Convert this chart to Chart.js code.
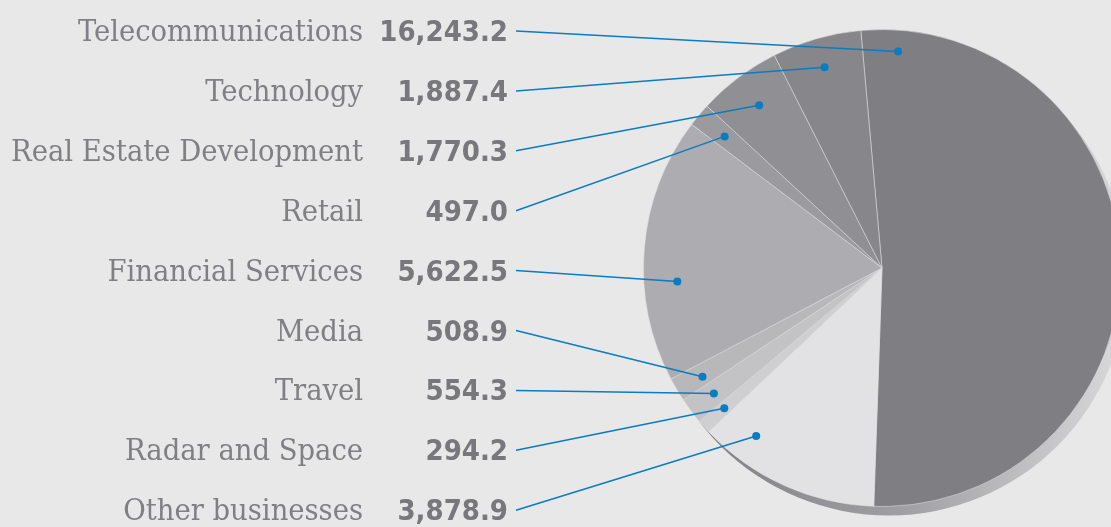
<!DOCTYPE html>
<html>
<head>
<meta charset="utf-8">
<script src="https://cdn.jsdelivr.net/npm/chart.js@4.4.1/dist/chart.umd.min.js"></script>
<style>
  html, body { margin: 0; padding: 0; background: #e8e8e8; overflow: hidden; }
  #wrap { position: relative; width: 1140px; height: 527px; }
</style>
</head>
<body>
<div id="wrap"><canvas id="pie"></canvas></div>
<script>
const categories = ['Telecommunications', 'Technology', 'Real Estate Development', 'Retail',
  'Financial Services', 'Media', 'Travel', 'Radar and Space', 'Other businesses'];
const amounts = [16243.2, 1887.4, 1770.3, 497.0, 5622.5, 508.9, 554.3, 294.2, 3878.9];
const sliceColors = ['#7f7e83', '#87868b', '#908f94', '#9b9a9f', '#adacb0',
  '#b8b8bb', '#c3c3c6', '#cfcfd1', '#e2e2e4'];

// clockwise order of the slices, starting just left of 12 o'clock
const pieOrder = [0, 8, 7, 6, 5, 4, 3, 2, 1];
// where the blue dot sits inside each slice (0 = leading edge, 1 = trailing edge)
const dotAlong = [0.05, 0.5, 0.5, 0.5, 0.37, 0.4, 0.5, 0.5, 0.78];
// and how far out from the centre (share of the radius)
const dotDepth = [0.91, 0.875, 0.855, 0.86, 0.86, 0.88, 0.88, 0.885, 0.88];

const nameFont = "30.5px 'DejaVu Serif Condensed', 'DejaVu Serif', serif";
const valueFont = "bold 29px 'DejaVu Sans Condensed', 'DejaVu Sans', sans-serif";
const blue = '#0a7cc2';

function fmt(v) {
  return v.toLocaleString('en-US', { minimumFractionDigits: 1, maximumFractionDigits: 1 });
}

const leaderPlugin = {
  id: 'leaders',
  beforeDatasetsDraw(chart) {
    // the dark rim under the lower right of the pie
    const ctx = chart.ctx;
    const arc = chart.getDatasetMeta(0).data[0];
    const { x, y, outerRadius } = arc.getProps(['x', 'y', 'outerRadius'], true);
    const g = ctx.createLinearGradient(x - 150, 0, x + 230, 0);
    g.addColorStop(0, '#86868a');
    g.addColorStop(0.45, '#a0a0a4');
    g.addColorStop(1, '#d6d6d8');
    ctx.save();
    ctx.beginPath();
    ctx.arc(x + 7, y + 9, outerRadius, 0, Math.PI * 2);
    ctx.fillStyle = g;
    ctx.fill();
    ctx.restore();
  },
  afterDatasetsDraw(chart) {
    const ctx = chart.ctx;
    const arcs = chart.getDatasetMeta(0).data;
    ctx.save();
    categories.forEach((name, i) => {
      const arc = arcs[pieOrder.indexOf(i)];
      const p = arc.getProps(['x', 'y', 'startAngle', 'endAngle', 'outerRadius'], true);
      const a = p.startAngle + (p.endAngle - p.startAngle) * dotAlong[i];
      const r = p.outerRadius * dotDepth[i];
      const px = p.x + Math.cos(a) * r;
      const py = p.y + Math.sin(a) * r;
      const rowY = 30 + i * 59.9;

      ctx.textAlign = 'right';
      ctx.textBaseline = 'alphabetic';
      ctx.font = nameFont;
      ctx.fillStyle = '#7f7f84';
      ctx.fillText(name, 363, rowY + 11);
      ctx.font = valueFont;
      ctx.fillStyle = '#77777c';
      ctx.fillText(fmt(amounts[i]), 508, rowY + 11);

      ctx.strokeStyle = blue;
      ctx.lineWidth = 1.5;
      ctx.beginPath();
      ctx.moveTo(516, rowY + 1);
      ctx.lineTo(px, py);
      ctx.stroke();
      ctx.beginPath();
      ctx.arc(px, py, 4, 0, Math.PI * 2);
      ctx.fillStyle = blue;
      ctx.fill();
    });
    ctx.restore();
  }
};

new Chart(document.getElementById('pie'), {
  type: 'pie',
  data: {
    labels: pieOrder.map(i => categories[i]),
    datasets: [{
      data: pieOrder.map(i => amounts[i]),
      backgroundColor: pieOrder.map(i => sliceColors[i]),
      borderColor: 'rgba(225,225,228,0.55)',
      borderWidth: 1
    }]
  },
  options: {
    responsive: true,
    maintainAspectRatio: false,
    animation: false,
    rotation: -5.1,
    layout: { padding: { left: 643, right: 19, top: 29, bottom: 20 } },
    plugins: {
      legend: { display: false },
      tooltip: { enabled: false }
    }
  },
  plugins: [leaderPlugin]
});
</script>
</body>
</html>
